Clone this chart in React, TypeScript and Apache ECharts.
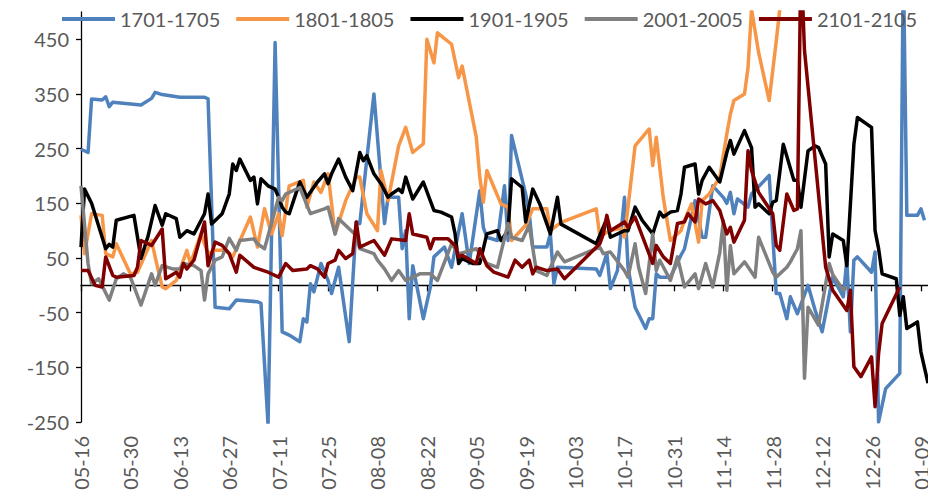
import React, { useEffect, useRef } from 'react';
import * as echarts from 'echarts';

// Day offsets counted from 05-16
const seriesNames = ['1701-1705', '1801-1805', '1901-1905', '2001-2005', '2101-2105'];
const seriesColors = ['#4F81BD', '#F79646', '#000000', '#808080', '#800000'];

const xTickDays = [0, 14, 28, 42, 56, 70, 84, 98, 112, 126, 140, 154, 168, 182, 196, 210, 224, 238];
const xTickLabels = ['05-16', '05-30', '06-13', '06-27', '07-11', '07-25', '08-08', '08-22', '09-05', '09-19', '10-03', '10-17', '10-31', '11-14', '11-28', '12-12', '12-26', '01-09'];
const yTicks = [-250, -150, -50, 50, 150, 250, 350, 450];

const s1701 = [[0,249],[2,243],[3,341],[6,339],[7,345],[8,327],[9,335],[17,330],[20,342],[21,353],[23,349],[28,344],[35,344],[36,341],[38,-40],[42,-43],[44,-27],[50,-30],[51,-33],[53,-255],[55,444],[57,-85],[59,-91],[62,-103],[63,-61],[64,-67],[65,3],[66,-12],[68,40],[70,9],[71,-15],[73,33],[76,-103],[78,116],[79,113],[83,350],[86,113],[87,161],[90,161],[91,67],[92,100],[93,-61],[94,36],[97,-61],[99,-3],[100,52],[103,70],[105,33],[108,131],[110,40],[113,173],[114,106],[115,88],[118,82],[120,182],[121,82],[122,274],[126,167],[127,131],[128,70],[132,70],[133,94],[134,3],[135,33],[146,30],[147,18],[149,58],[150,-6],[152,27],[154,161],[155,33],[157,-40],[160,-79],[161,-61],[162,-61],[163,21],[164,15],[167,15],[170,55],[171,67],[174,155],[176,88],[177,88],[179,182],[182,161],[183,150],[184,170],[185,131],[186,158],[189,143],[190,167],[195,201],[197,-15],[198,-15],[200,-61],[201,-21],[203,-52],[206,0],[208,-45],[210,-85],[213,15],[215,-9],[216,-21],[217,46],[218,-85],[219,46],[220,52],[224,24],[225,61],[226,-250],[228,-189],[232,-161],[233,600],[234,128],[237,128],[238,140],[239,119]];

const s1801 = [[0,128],[1,58],[3,131],[6,128],[7,58],[9,52],[10,76],[14,21],[16,24],[20,82],[21,52],[23,-3],[24,-6],[27,9],[30,64],[31,40],[34,94],[36,58],[38,64],[41,64],[43,52],[48,125],[50,70],[52,140],[54,94],[56,131],[57,91],[59,182],[63,192],[64,143],[66,189],[68,170],[70,204],[72,94],[75,155],[78,198],[79,198],[81,131],[84,100],[85,210],[87,155],[90,255],[92,289],[94,243],[97,259],[98,450],[100,407],[101,462],[105,441],[107,380],[108,401],[112,271],[113,198],[114,152],[115,210],[119,149],[121,143],[122,82],[126,110],[128,140],[132,140],[133,100],[136,115],[146,140],[147,90],[150,100],[153,105],[154,88],[157,255],[161,286],[162,219],[163,271],[165,160],[167,82],[170,100],[171,119],[173,149],[175,79],[176,155],[178,167],[181,198],[183,277],[184,313],[185,338],[188,350],[189,398],[190,505],[192,426],[195,338],[197,447],[198,505],[199,600]];

const s1901 = [[0,70],[1,176],[3,150],[7,67],[8,75],[9,70],[10,119],[15,128],[17,49],[19,90],[21,146],[23,110],[24,131],[27,122],[28,88],[30,100],[32,94],[35,131],[36,167],[37,112],[40,131],[42,167],[43,222],[44,210],[45,231],[48,192],[49,198],[50,149],[51,195],[53,182],[55,176],[56,161],[57,143],[58,134],[59,131],[61,170],[62,189],[64,161],[67,189],[69,204],[70,186],[71,204],[73,231],[75,198],[77,173],[79,243],[80,228],[81,237],[83,204],[85,186],[87,161],[88,167],[90,176],[91,170],[92,198],[94,158],[97,189],[100,137],[102,134],[105,125],[106,94],[107,40],[108,49],[110,43],[111,40],[113,40],[115,94],[118,100],[119,82],[121,100],[122,195],[125,179],[126,116],[128,176],[130,149],[133,94],[135,161],[136,112],[146,76],[149,122],[150,88],[154,100],[155,100],[157,143],[159,119],[162,94],[164,134],[165,125],[167,134],[169,137],[170,167],[171,216],[174,222],[175,167],[176,192],[178,216],[181,189],[183,243],[184,265],[185,240],[188,283],[190,252],[191,143],[192,149],[195,131],[196,152],[197,155],[199,258],[202,192],[203,192],[204,143],[206,246],[208,255],[209,252],[211,222],[212,52],[213,94],[216,82],[217,36],[219,258],[220,307],[224,289],[225,100],[226,67],[227,21],[231,12],[232,-55],[233,-21],[234,-79],[237,-67],[238,-122],[240,-179]];

const s2001 = [[0,182],[2,40],[3,3],[5,12],[8,-27],[10,12],[12,21],[14,15],[17,-36],[20,21],[21,0],[23,36],[26,30],[28,30],[29,40],[32,36],[34,27],[35,-27],[36,21],[38,46],[40,52],[42,86],[44,64],[45,82],[49,85],[50,76],[52,67],[56,161],[57,155],[58,167],[62,179],[65,131],[69,140],[70,143],[72,94],[73,122],[78,91],[79,67],[83,58],[84,46],[86,30],[88,9],[90,27],[92,9],[96,21],[99,21],[101,9],[105,76],[107,58],[109,61],[112,67],[115,40],[118,33],[121,113],[122,88],[125,82],[127,110],[129,27],[132,18],[135,61],[137,43],[147,70],[148,58],[150,61],[154,27],[155,15],[157,76],[158,33],[160,-15],[162,94],[163,27],[164,46],[167,9],[169,52],[171,-3],[174,21],[175,-6],[177,40],[179,-3],[181,60],[182,118],[183,-9],[184,73],[185,21],[188,43],[191,15],[192,88],[196,24],[197,15],[200,33],[201,43],[203,67],[204,100],[205,-170],[206,-40],[209,-73],[212,40],[213,20],[216,-9],[217,-3]];

const s2101 = [[0,27],[2,27],[4,0],[6,-3],[7,52],[9,18],[10,15],[15,18],[16,33],[17,82],[20,73],[23,103],[24,12],[27,24],[28,15],[29,40],[30,30],[32,46],[35,116],[36,36],[38,79],[40,73],[42,58],[44,24],[45,55],[49,33],[53,24],[56,15],[58,40],[60,27],[64,30],[65,36],[67,30],[69,15],[70,40],[72,46],[73,64],[75,49],[77,58],[78,116],[79,70],[83,82],[86,55],[88,85],[92,82],[93,131],[94,94],[98,88],[99,67],[100,85],[104,85],[106,73],[107,52],[108,55],[112,40],[113,67],[115,36],[117,24],[121,15],[123,46],[125,33],[127,46],[128,21],[129,33],[132,27],[135,30],[137,12],[147,76],[148,94],[149,128],[150,100],[154,116],[155,106],[157,125],[162,40],[163,73],[165,52],[167,40],[169,113],[171,116],[172,131],[174,116],[175,158],[177,149],[179,155],[181,137],[183,94],[184,106],[185,79],[188,119],[189,246],[190,210],[192,170],[196,131],[197,73],[198,64],[200,167],[202,137],[203,140],[204,600],[205,430],[211,33],[213,-9],[217,-46],[218,-9],[219,-149],[221,-167],[224,-131],[225,-222],[226,-125],[227,-70],[232,-3]];

const seriesData = [s1701, s1801, s1901, s2001, s2101];

const FONT = 'Lato';
const TEXT = '#595959';

export default function App() {
  const ref = useRef<HTMLDivElement>(null);
  useEffect(() => {
    if (!ref.current) return;
    const chart = echarts.init(ref.current, undefined, { renderer: 'svg' });
    const labelFor = (v: number) => {
      const i = xTickDays.indexOf(v);
      return i >= 0 ? xTickLabels[i] : '';
    };
    chart.setOption({
      animation: false,
      backgroundColor: '#ffffff',
      grid: { left: 81, right: 0, top: 12, bottom: 72, outerBoundsMode: 'none', containLabel: false },
      legend: {
        data: seriesNames,
        left: 57,
        top: 4,
        width: 1000,
        orient: 'horizontal',
        icon: 'rect',
        itemWidth: 53,
        itemHeight: 4,
        itemGap: 16,
        textStyle: { color: TEXT, fontSize: 20, fontFamily: FONT },
      },
      xAxis: [
        {
          type: 'value', min: 0, max: 240, interval: 14, position: 'bottom',
          axisLine: { show: false, onZero: false },
          axisTick: { show: false },
          splitLine: { show: false },
          axisLabel: {
            customValues: xTickDays, rotate: 90, margin: 14, fontSize: 20, fontFamily: FONT, color: TEXT,
            formatter: (v: number) => labelFor(v),
          },
        },
        {
          type: 'value', min: 0, max: 240, interval: 14, position: 'bottom',
          axisLine: { show: true, onZero: true, lineStyle: { color: '#000000', width: 1.3 } },
          axisTick: { show: true, customValues: xTickDays, length: 6, lineStyle: { color: '#000000', width: 1.3 } },
          axisLabel: { show: false },
          splitLine: { show: false },
        },
      ],
      yAxis: {
        type: 'value', min: -250, max: 500, interval: 100,
        axisLine: { show: true, onZero: false, lineStyle: { color: '#000000', width: 1.3 } },
        axisTick: { show: true, customValues: yTicks, length: 5, lineStyle: { color: '#000000', width: 1.3 } },
        splitLine: { show: false },
        axisLabel: { customValues: yTicks, margin: 12, fontSize: 20, fontFamily: FONT, color: TEXT },
      },
      series: seriesData.map((d, i) => ({
        type: 'line',
        name: seriesNames[i],
        data: d,
        xAxisIndex: 0,
        yAxisIndex: 0,
        symbol: 'none',
        clip: true,
        lineStyle: { width: 3.5, color: seriesColors[i], join: 'round' },
        itemStyle: { color: seriesColors[i] },
      })),
    });
    return () => chart.dispose();
  }, []);
  return <div ref={ref} style={{ position: 'fixed', left: 0, top: 0, width: 928, height: 494 }} />;
}
